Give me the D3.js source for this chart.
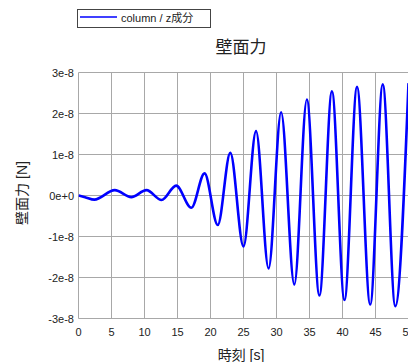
<!DOCTYPE html>
<html>
<head>
<meta charset="utf-8">
<script src="https://cdn.jsdelivr.net/npm/d3@7"></script>
<style>
  body { margin: 0; background: #fff; }
  svg { display: block; font-family: "Liberation Sans", "Noto Sans CJK JP", sans-serif; }
</style>
</head>
<body>
<svg id="chart" width="408" height="362"></svg>
<script>
// Dados (picos e vales)
const tempos = [0, 1.0, 2.4, 5.5, 8.0, 10.3, 12.6, 14.8, 17.1, 19.1, 21.1, 23.0, 25.0, 26.9, 28.8,
  30.7, 32.7, 34.6, 36.5, 38.4, 40.3, 42.2, 44.2, 46.1, 48.0, 50.0];
const forcas = [0, -0.04e-8, -0.1e-8, 0.13e-8, -0.04e-8, 0.13e-8, -0.11e-8, 0.24e-8, -0.30e-8, 0.54e-8,
  -0.72e-8, 1.04e-8, -1.24e-8, 1.57e-8, -1.78e-8, 2.03e-8, -2.17e-8, 2.34e-8, -2.44e-8, 2.54e-8,
  -2.55e-8, 2.65e-8, -2.66e-8, 2.71e-8, -2.70e-8, 2.74e-8];

const xTicks = [0, 5, 10, 15, 20, 25, 30, 35, 40, 45, 50];
const yTicks = [-3e-8, -2e-8, -1e-8, 0, 1e-8, 2e-8, 3e-8];
const yLabels = ["-3e-8", "-2e-8", "-1e-8", "0e+0", "1e-8", "2e-8", "3e-8"];
const titulo = "壁面力";
const serieNome = "column / z成分";
const xTitulo = "時刻 [s]";
const yTitulo = "壁面力 [N]";

const svg = d3.select("#chart");
const x = d3.scaleLinear().domain([0, 50]).range([78.5, 408.5]);
const y = d3.scaleLinear().domain([-3e-8, 3e-8]).range([318.5, 72.5]);

// Grade
svg.append("g").selectAll("line").data(xTicks).join("line")
  .attr("x1", d => x(d)).attr("x2", d => x(d))
  .attr("y1", y(3e-8)).attr("y2", y(-3e-8))
  .attr("stroke", "#a8a8a8").attr("stroke-width", 1);
svg.append("g").selectAll("line").data(yTicks).join("line")
  .attr("x1", x(0)).attr("x2", 408)
  .attr("y1", d => y(d)).attr("y2", d => y(d))
  .attr("stroke", "#a8a8a8").attr("stroke-width", 1);

// Rótulos dos eixos
svg.append("g").selectAll("text").data(yTicks).join("text")
  .attr("x", 74).attr("y", d => y(d) + 4)
  .attr("text-anchor", "end").attr("font-size", 11).attr("fill", "#222")
  .text((d, i) => yLabels[i]);
svg.append("g").selectAll("text").data(xTicks).join("text")
  .attr("x", d => x(d)).attr("y", 336)
  .attr("text-anchor", "middle").attr("font-size", 11).attr("fill", "#222")
  .text(d => d);

// Curva
svg.append("clipPath").attr("id", "clip")
  .append("rect").attr("x", x(0)).attr("y", y(3e-8) - 5).attr("width", 340).attr("height", 256);
const linha = d3.line()
  .x((d, i) => x(tempos[i]))
  .y(d => y(d))
  .curve(d3.curveMonotoneX);
svg.append("path")
  .attr("d", linha(forcas))
  .attr("clip-path", "url(#clip)")
  .attr("fill", "none")
  .attr("stroke", "#0000ff")
  .attr("stroke-width", 2.6);

// Títulos
svg.append("text").attr("x", 241).attr("y", 53).attr("text-anchor", "middle")
  .attr("font-size", 17).attr("fill", "#222").text(titulo);
svg.append("text").attr("x", 241).attr("y", 360).attr("text-anchor", "middle")
  .attr("font-size", 14).attr("fill", "#222").text(xTitulo);
svg.append("text").attr("transform", "translate(27,193) rotate(-90)").attr("text-anchor", "middle")
  .attr("font-size", 14).attr("fill", "#222").text(yTitulo);

// Legenda
svg.append("rect").attr("x", 77.5).attr("y", 9.5).attr("width", 133).attr("height", 18)
  .attr("fill", "#fff").attr("stroke", "#444").attr("stroke-width", 1);
svg.append("line").attr("x1", 80).attr("x2", 117).attr("y1", 17).attr("y2", 17)
  .attr("stroke", "#0000ff").attr("stroke-width", 1.5);
svg.append("text").attr("x", 121).attr("y", 21.5).attr("font-size", 11).attr("fill", "#222")
  .text(serieNome);
</script>
</body>
</html>
